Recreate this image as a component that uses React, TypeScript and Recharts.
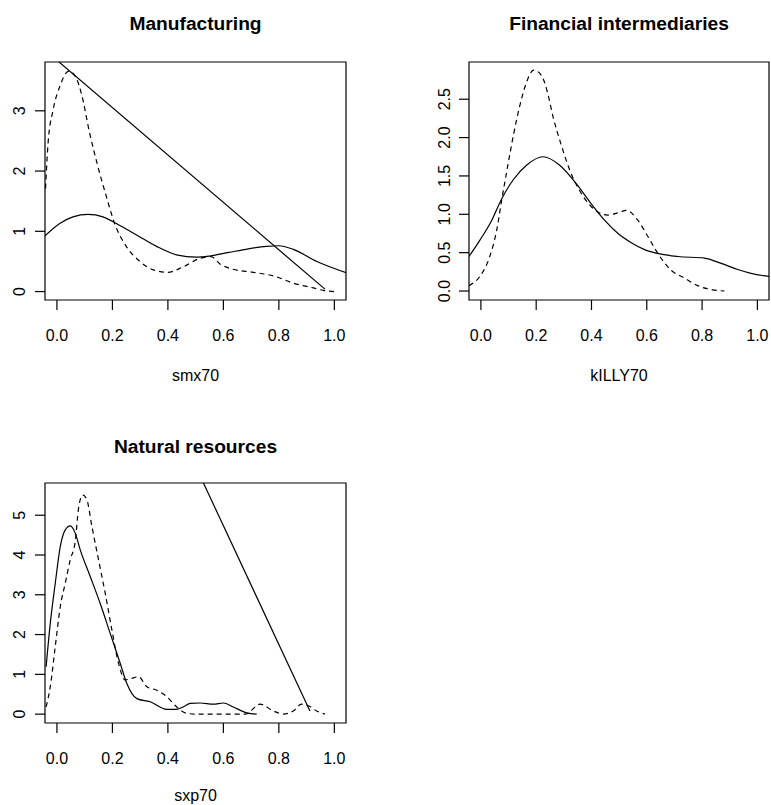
import { LineChart, Line, XAxis, YAxis, ReferenceArea } from 'recharts';

const FONT = "'Liberation Sans', Arial, Helvetica, sans-serif";

// shared x axis
const xDomain = [-0.043, 1.042];
const xTicks = [0, 0.2, 0.4, 0.6, 0.8, 1.0];

// Manufacturing (smx70)
const mfgSolidX = [-0.044, 0.01, 0.058, 0.112, 0.166, 0.214, 0.287, 0.359, 0.431, 0.503, 0.551, 0.62, 0.69, 0.756, 0.8, 0.852, 0.937, 1.045];
const mfgSolidY = [0.92, 1.13, 1.24, 1.28, 1.24, 1.13, 0.94, 0.75, 0.61, 0.57, 0.59, 0.65, 0.71, 0.75, 0.76, 0.7, 0.5, 0.31];
const mfgDashX = [-0.041, -0.032, -0.014, 0.01, 0.043, 0.07, 0.088, 0.118, 0.148, 0.178, 0.208, 0.25, 0.299, 0.347, 0.4, 0.455, 0.515, 0.555, 0.59, 0.635, 0.707, 0.78, 0.852, 0.924, 0.96, 1.0];
const mfgDashY = [1.71, 2.46, 3.01, 3.4, 3.66, 3.54, 3.29, 2.63, 2.07, 1.58, 1.13, 0.75, 0.5, 0.36, 0.32, 0.41, 0.55, 0.58, 0.45, 0.37, 0.32, 0.26, 0.14, 0.06, 0.02, 0.0];
const mfgLineX = [0, 0.966];
const mfgLineY = [3.84, 0.04];
const mfgYTicks = [0, 1, 2, 3];

// Financial intermediaries (kILLY70)
const finSolidX = [-0.043, -0.004, 0.039, 0.075, 0.117, 0.165, 0.225, 0.285, 0.345, 0.394, 0.448, 0.496, 0.544, 0.592, 0.652, 0.712, 0.809, 0.869, 0.929, 0.977, 1.042];
const finSolidY = [0.45, 0.66, 0.92, 1.2, 1.45, 1.64, 1.75, 1.64, 1.4, 1.16, 0.92, 0.75, 0.63, 0.54, 0.48, 0.45, 0.43, 0.36, 0.28, 0.23, 0.19];
const finDashX = [-0.043, -0.004, 0.032, 0.057, 0.075, 0.098, 0.117, 0.141, 0.165, 0.191, 0.219, 0.24, 0.261, 0.291, 0.321, 0.357, 0.394, 0.423, 0.459, 0.496, 0.526, 0.568, 0.604, 0.64, 0.688, 0.736, 0.784, 0.833, 0.881];
const finDashY = [0.07, 0.19, 0.45, 0.79, 1.18, 1.65, 2.02, 2.42, 2.72, 2.88, 2.81, 2.6, 2.27, 1.9, 1.58, 1.31, 1.12, 1.03, 0.99, 1.02, 1.05, 0.92, 0.71, 0.49, 0.27, 0.17, 0.07, 0.02, 0.0];
const finYTicks = [0, 0.5, 1.0, 1.5, 2.0, 2.5];

// Natural resources (sxp70)
const natSolidX = [-0.039, -0.024, -0.006, 0.012, 0.03, 0.048, 0.066, 0.084, 0.12, 0.156, 0.192, 0.228, 0.252, 0.288, 0.336, 0.396, 0.432, 0.46, 0.48, 0.516, 0.564, 0.6, 0.636, 0.684, 0.72];
const natSolidY = [1.19, 2.28, 3.29, 4.21, 4.63, 4.73, 4.55, 4.13, 3.46, 2.78, 2.03, 1.28, 0.77, 0.39, 0.31, 0.12, 0.12, 0.2, 0.27, 0.28, 0.25, 0.28, 0.18, 0.03, 0.0];
const natDashX = [-0.039, -0.024, -0.006, 0.012, 0.03, 0.048, 0.066, 0.078, 0.093, 0.108, 0.126, 0.15, 0.174, 0.198, 0.222, 0.246, 0.27, 0.294, 0.324, 0.36, 0.396, 0.432, 0.468, 0.5, 0.6, 0.68, 0.732, 0.78, 0.816, 0.852, 0.882, 0.912, 0.936, 0.966];
const natDashY = [0.18, 0.69, 1.7, 2.7, 3.29, 3.88, 4.34, 5.18, 5.51, 5.39, 4.72, 3.88, 3.04, 2.12, 1.28, 0.86, 0.9, 0.94, 0.69, 0.6, 0.44, 0.18, 0.02, 0.0, 0.0, 0.0, 0.25, 0.08, 0.0, 0.08, 0.25, 0.19, 0.08, 0.0];
const natLineX = [0.5, 0.912];
const natLineY = [6.23, 0.08];
const natYTicks = [0, 1, 2, 3, 4, 5];

const zip = (xs: number[], ys: number[]) => xs.map((x, i) => ({ x, y: ys[i] }));

function XTick(props: any) {
  const { x, y, payload } = props;
  return (
    <text x={x} y={y} textAnchor="middle" fontSize={16} fontFamily={FONT} fill="#000">
      {Number(payload.value).toFixed(1)}
    </text>
  );
}

const yTick = (digits: number) => (props: any) => {
  const { x, y, payload } = props;
  return (
    <text
      transform={`translate(${x},${y}) rotate(-90)`}
      textAnchor="middle"
      fontSize={16}
      fontFamily={FONT}
      fill="#000"
    >
      {Number(payload.value).toFixed(digits)}
    </text>
  );
};

type Series = { data: { x: number; y: number }[]; dashed?: boolean };

function Panel(p: {
  left: number; top: number; width: number; height: number;
  marginTop: number; marginRight: number; yAxisWidth: number; xAxisHeight: number;
  yTickMargin: number; xTickMargin: number; titleY: number; labelY: number;
  title: string; xLabel: string; yDomain: number[]; yTicks: number[]; yDigits: number;
  series: Series[];
}) {
  const cx = p.yAxisWidth + (p.width - p.yAxisWidth - p.marginRight) / 2;
  return (
    <div style={{ position: 'absolute', left: p.left, top: p.top }}>
      <LineChart
        width={p.width}
        height={p.height}
        margin={{ top: p.marginTop, right: p.marginRight, left: 0, bottom: 0 }}
      >
        <XAxis
          type="number"
          dataKey="x"
          domain={xDomain}
          ticks={xTicks}
          interval={0}
          allowDataOverflow
          axisLine={false}
          tickSize={10}
          tickMargin={p.xTickMargin}
          tickLine={{ stroke: '#000', strokeWidth: 1.2 }}
          tick={<XTick />}
          height={p.xAxisHeight}
        />
        <YAxis
          type="number"
          domain={p.yDomain}
          ticks={p.yTicks}
          interval={0}
          allowDataOverflow
          axisLine={false}
          tickSize={10}
          tickMargin={p.yTickMargin}
          tickLine={{ stroke: '#000', strokeWidth: 1.2 }}
          tick={yTick(p.yDigits)}
          width={p.yAxisWidth}
        />
        <ReferenceArea
          x1={xDomain[0]}
          x2={xDomain[1]}
          y1={p.yDomain[0]}
          y2={p.yDomain[1]}
          fill="none"
          fillOpacity={0}
          stroke="#000"
          strokeWidth={1.2}
          ifOverflow="visible"
        />
        {p.series.map((s, i) => (
          <Line
            key={i}
            data={s.data}
            dataKey="y"
            type="monotone"
            stroke="#000"
            strokeWidth={1.2}
            strokeDasharray={s.dashed ? '5 4' : undefined}
            dot={false}
            activeDot={false}
            isAnimationActive={false}
          />
        ))}
        <text x={cx} y={p.titleY} textAnchor="middle" fontSize={19.2} fontWeight="bold" fontFamily={FONT} fill="#000">
          {p.title}
        </text>
        <text x={cx} y={p.labelY} textAnchor="middle" fontSize={16} fontFamily={FONT} fill="#000">
          {p.xLabel}
        </text>
      </LineChart>
    </div>
  );
}

export default function App() {
  return (
    <div style={{ position: 'absolute', left: 0, top: 0, width: 771, height: 805, background: '#fff' }}>
      <Panel
        left={0} top={0} width={385} height={400}
        marginTop={62} marginRight={39} yAxisWidth={45} xAxisHeight={100}
        yTickMargin={10.5} xTickMargin={30.7} titleY={30} labelY={381}
        title="Manufacturing" xLabel="smx70"
        yDomain={[-0.14, 3.81]} yTicks={mfgYTicks} yDigits={0}
        series={[
          { data: zip(mfgSolidX, mfgSolidY) },
          { data: zip(mfgDashX, mfgDashY), dashed: true },
          { data: zip(mfgLineX, mfgLineY) },
        ]}
      />
      <Panel
        left={385} top={0} width={386} height={400}
        marginTop={62} marginRight={2} yAxisWidth={84} xAxisHeight={100}
        yTickMargin={9} xTickMargin={30.7} titleY={30} labelY={381}
        title="Financial intermediaries" xLabel="kILLY70"
        yDomain={[-0.117, 2.985]} yTicks={finYTicks} yDigits={1}
        series={[
          { data: zip(finSolidX, finSolidY) },
          { data: zip(finDashX, finDashY), dashed: true },
        ]}
      />
      <Panel
        left={0} top={400} width={385} height={405}
        marginTop={83} marginRight={39} yAxisWidth={45} xAxisHeight={82}
        yTickMargin={10.5} xTickMargin={31} titleY={53} labelY={401}
        title="Natural resources" xLabel="sxp70"
        yDomain={[-0.223, 5.81]} yTicks={natYTicks} yDigits={0}
        series={[
          { data: zip(natSolidX, natSolidY) },
          { data: zip(natDashX, natDashY), dashed: true },
          { data: zip(natLineX, natLineY) },
        ]}
      />
    </div>
  );
}
